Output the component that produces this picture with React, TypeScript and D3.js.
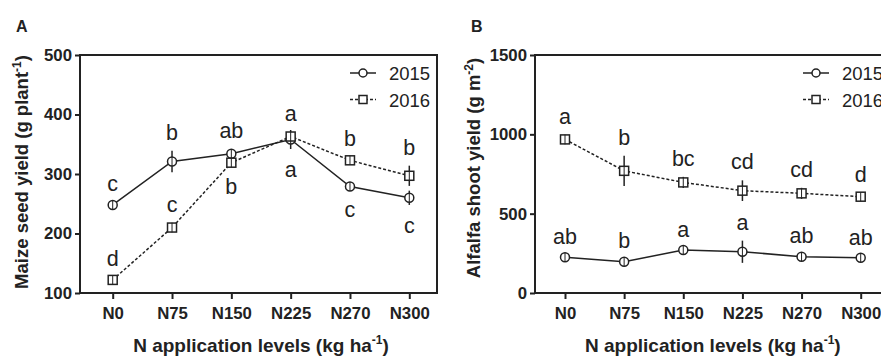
import React, { useEffect, useRef } from "react";
import * as d3 from "d3";

const categories = ["N0", "N75", "N150", "N225", "N270", "N300"];

// panel A: maize seed yield (g plant-1)
const maize2015 = [248, 321, 334, 358, 279, 260];
const maize2015Err = [5, 18, 8, 16, 4, 12];
const maize2015Letters = ["c", "b", "ab", "a", "c", "c"];
const maize2015Side = ["above", "above", "above", "below", "below", "below"];
const maize2016 = [122, 210, 319, 363, 323, 297];
const maize2016Err = [5, 8, 5, 8, 5, 17];
const maize2016Letters = ["d", "c", "b", "a", "b", "b"];
const maize2016Side = ["above", "above", "below", "above", "above", "above"];
const maizeTicks = [100, 200, 300, 400, 500];

// panel B: alfalfa shoot yield (g m-2)
const shoot2015 = [225, 197, 271, 260, 229, 222];
const shoot2015Err = [15, 15, 15, 70, 15, 12];
const shoot2015Letters = ["ab", "b", "a", "a", "ab", "ab"];
const shoot2016 = [968, 770, 697, 645, 628, 607];
const shoot2016Err = [30, 95, 35, 65, 35, 25];
const shoot2016Letters = ["a", "b", "bc", "cd", "cd", "d"];
const shootTicks = [0, 500, 1000, 1500];

const years = ["2015", "2016"];

const FONT = "'Liberation Sans', Arial, sans-serif";
const INK = "#222";

type Series = {
  values: number[];
  err: number[];
  letters: string[];
  side: string[];
  marker: "circle" | "square";
  dash: string | null;
};

type Panel = {
  tag: string;
  frameLeft: number;
  frameRight: number;
  xRange: [number, number];
  domain: [number, number];
  ticks: number[];
  titleMain: string;
  titleSup: string;
  titleX: number;
  titleY: number;
  legendX: number;
  series: Series[];
};

const TOP = 55;
const BOTTOM = 293;

const drawPanel = (svg: d3.Selection<SVGSVGElement, unknown, null, undefined>, p: Panel) => {
  const g = svg.append("g");

  const x = d3.scalePoint<string>().domain(categories).range(p.xRange);
  const y = d3.scaleLinear().domain(p.domain).range([BOTTOM, TOP]);

  // panel letter
  g.append("text")
    .attr("x", p.frameLeft - 64)
    .attr("y", 32)
    .attr("font-family", FONT)
    .attr("font-weight", "bold")
    .attr("font-size", 16)
    .attr("fill", INK)
    .text(p.tag);

  // axes
  const yAxis = g
    .append("g")
    .attr("transform", `translate(${p.frameLeft},0)`)
    .call(d3.axisLeft(y).tickValues(p.ticks).tickSize(5).tickPadding(3).tickFormat(d3.format("d")));
  const xAxis = g
    .append("g")
    .attr("transform", `translate(0,${BOTTOM})`)
    .call(d3.axisBottom(x).tickSize(6).tickPadding(8));
  [yAxis, xAxis].forEach((a) => {
    a.select(".domain").remove();
    a.selectAll("line").attr("stroke", INK).attr("stroke-width", 2);
    a.selectAll("text")
      .attr("font-family", FONT)
      .attr("font-weight", "bold")
      .attr("font-size", 16.8)
      .attr("fill", INK);
  });

  // frame
  g.append("rect")
    .attr("x", p.frameLeft)
    .attr("y", TOP)
    .attr("width", p.frameRight - p.frameLeft)
    .attr("height", BOTTOM - TOP)
    .attr("fill", "none")
    .attr("stroke", INK)
    .attr("stroke-width", 2);

  // y title
  const yt = g
    .append("text")
    .attr("transform", `translate(${p.titleX},${p.titleY}) rotate(-90)`)
    .attr("text-anchor", "middle")
    .attr("font-family", FONT)
    .attr("font-weight", "bold")
    .attr("font-size", 18.5)
    .attr("fill", INK);
  yt.append("tspan").text(p.titleMain);
  yt.append("tspan").attr("dy", -7).attr("font-size", 12).text(p.titleSup);
  yt.append("tspan").attr("dy", 7).text(")");

  // x title
  const xt = g
    .append("text")
    .attr("x", (p.xRange[0] + p.xRange[1]) / 2)
    .attr("y", 352)
    .attr("text-anchor", "middle")
    .attr("font-family", FONT)
    .attr("font-weight", "bold")
    .attr("font-size", 19)
    .attr("fill", INK);
  xt.append("tspan").text("N application levels (kg ha");
  xt.append("tspan").attr("dy", -8).attr("font-size", 12).text("-1");
  xt.append("tspan").attr("dy", 8).text(")");

  p.series.forEach((s) => {
    const pts = categories.map((c, i) => ({ c, v: s.values[i], e: s.err[i], l: s.letters[i], side: s.side[i] }));

    g.append("path")
      .datum(pts)
      .attr("fill", "none")
      .attr("stroke", INK)
      .attr("stroke-width", 1.5)
      .attr("stroke-dasharray", s.dash)
      .attr(
        "d",
        d3
          .line<(typeof pts)[number]>()
          .x((d) => x(d.c)!)
          .y((d) => y(d.v))
      );

    // error bars
    g.append("g")
      .selectAll("line")
      .data(pts)
      .join("line")
      .attr("x1", (d) => x(d.c)!)
      .attr("x2", (d) => x(d.c)!)
      .attr("y1", (d) => y(d.v - d.e))
      .attr("y2", (d) => y(d.v + d.e))
      .attr("stroke", INK)
      .attr("stroke-width", 1.5);

    // markers
    const m = g.append("g");
    if (s.marker === "circle") {
      m.selectAll("circle")
        .data(pts)
        .join("circle")
        .attr("cx", (d) => x(d.c)!)
        .attr("cy", (d) => y(d.v))
        .attr("r", 4.5)
        .attr("fill", "white")
        .attr("stroke", INK)
        .attr("stroke-width", 1.5);
    } else {
      m.selectAll("rect")
        .data(pts)
        .join("rect")
        .attr("x", (d) => x(d.c)! - 4.5)
        .attr("y", (d) => y(d.v) - 4.5)
        .attr("width", 9)
        .attr("height", 9)
        .attr("fill", "white")
        .attr("stroke", INK)
        .attr("stroke-width", 1.5);
    }
    // the error bar shows through the open marker
    m.selectAll("line.in")
      .data(pts)
      .join("line")
      .attr("class", "in")
      .attr("x1", (d) => x(d.c)!)
      .attr("x2", (d) => x(d.c)!)
      .attr("y1", (d) => y(d.v) - 4.5)
      .attr("y2", (d) => y(d.v) + 4.5)
      .attr("stroke", INK)
      .attr("stroke-width", 1);

    // significance letters
    g.append("g")
      .selectAll("text")
      .data(pts)
      .join("text")
      .attr("x", (d) => x(d.c)!)
      .attr("y", (d) => (d.side === "below" ? y(d.v - d.e) + 28 : y(d.v + d.e) - 11))
      .attr("text-anchor", "middle")
      .attr("font-family", FONT)
      .attr("font-size", 21.5)
      .attr("fill", INK)
      .text((d) => d.l);
  });

  // legend
  p.series.forEach((s, i) => {
    const ly = 73 + i * 26.5;
    const lg = g.append("g");
    lg.append("line")
      .attr("x1", p.legendX)
      .attr("x2", p.legendX + 26)
      .attr("y1", ly)
      .attr("y2", ly)
      .attr("stroke", INK)
      .attr("stroke-width", 1.5)
      .attr("stroke-dasharray", s.dash);
    if (s.marker === "circle") {
      lg.append("circle")
        .attr("cx", p.legendX + 13)
        .attr("cy", ly)
        .attr("r", 4)
        .attr("fill", "white")
        .attr("stroke", INK)
        .attr("stroke-width", 1.5);
    } else {
      lg.append("rect")
        .attr("x", p.legendX + 9)
        .attr("y", ly - 4)
        .attr("width", 8)
        .attr("height", 8)
        .attr("fill", "white")
        .attr("stroke", INK)
        .attr("stroke-width", 1.5);
    }
    lg.append("text")
      .attr("x", p.legendX + 39)
      .attr("y", ly + 7)
      .attr("font-family", FONT)
      .attr("font-size", 18.5)
      .attr("fill", INK)
      .text(years[i]);
  });
};

const App = () => {
  const svgRef = useRef<SVGSVGElement>(null);

  useEffect(() => {
    const svg = d3.select(svgRef.current!);
    svg.selectAll("*").remove();

    drawPanel(svg, {
      tag: "A",
      frameLeft: 80,
      frameRight: 437,
      xRange: [112.7, 409.3],
      domain: [100, 500],
      ticks: maizeTicks,
      titleMain: "Maize seed yield (g plant",
      titleSup: "-1",
      titleX: 28,
      titleY: 172,
      legendX: 350,
      series: [
        { values: maize2015, err: maize2015Err, letters: maize2015Letters, side: maize2015Side, marker: "circle", dash: null },
        { values: maize2016, err: maize2016Err, letters: maize2016Letters, side: maize2016Side, marker: "square", dash: "3,2" },
      ],
    });

    drawPanel(svg, {
      tag: "B",
      frameLeft: 535,
      frameRight: 888,
      xRange: [565, 860.7],
      domain: [0, 1500],
      ticks: shootTicks,
      titleMain: "Alfalfa shoot yield (g m",
      titleSup: "-2",
      titleX: 480,
      titleY: 168,
      legendX: 803,
      series: [
        { values: shoot2015, err: shoot2015Err, letters: shoot2015Letters, side: shoot2015Letters.map(() => "above"), marker: "circle", dash: null },
        { values: shoot2016, err: shoot2016Err, letters: shoot2016Letters, side: shoot2016Letters.map(() => "above"), marker: "square", dash: "3,2" },
      ],
    });
  }, []);

  return (
    <svg
      ref={svgRef}
      width={881}
      height={356}
      style={{ position: "absolute", left: 0, top: 0, background: "white" }}
    ></svg>
  );
};

export default App;
